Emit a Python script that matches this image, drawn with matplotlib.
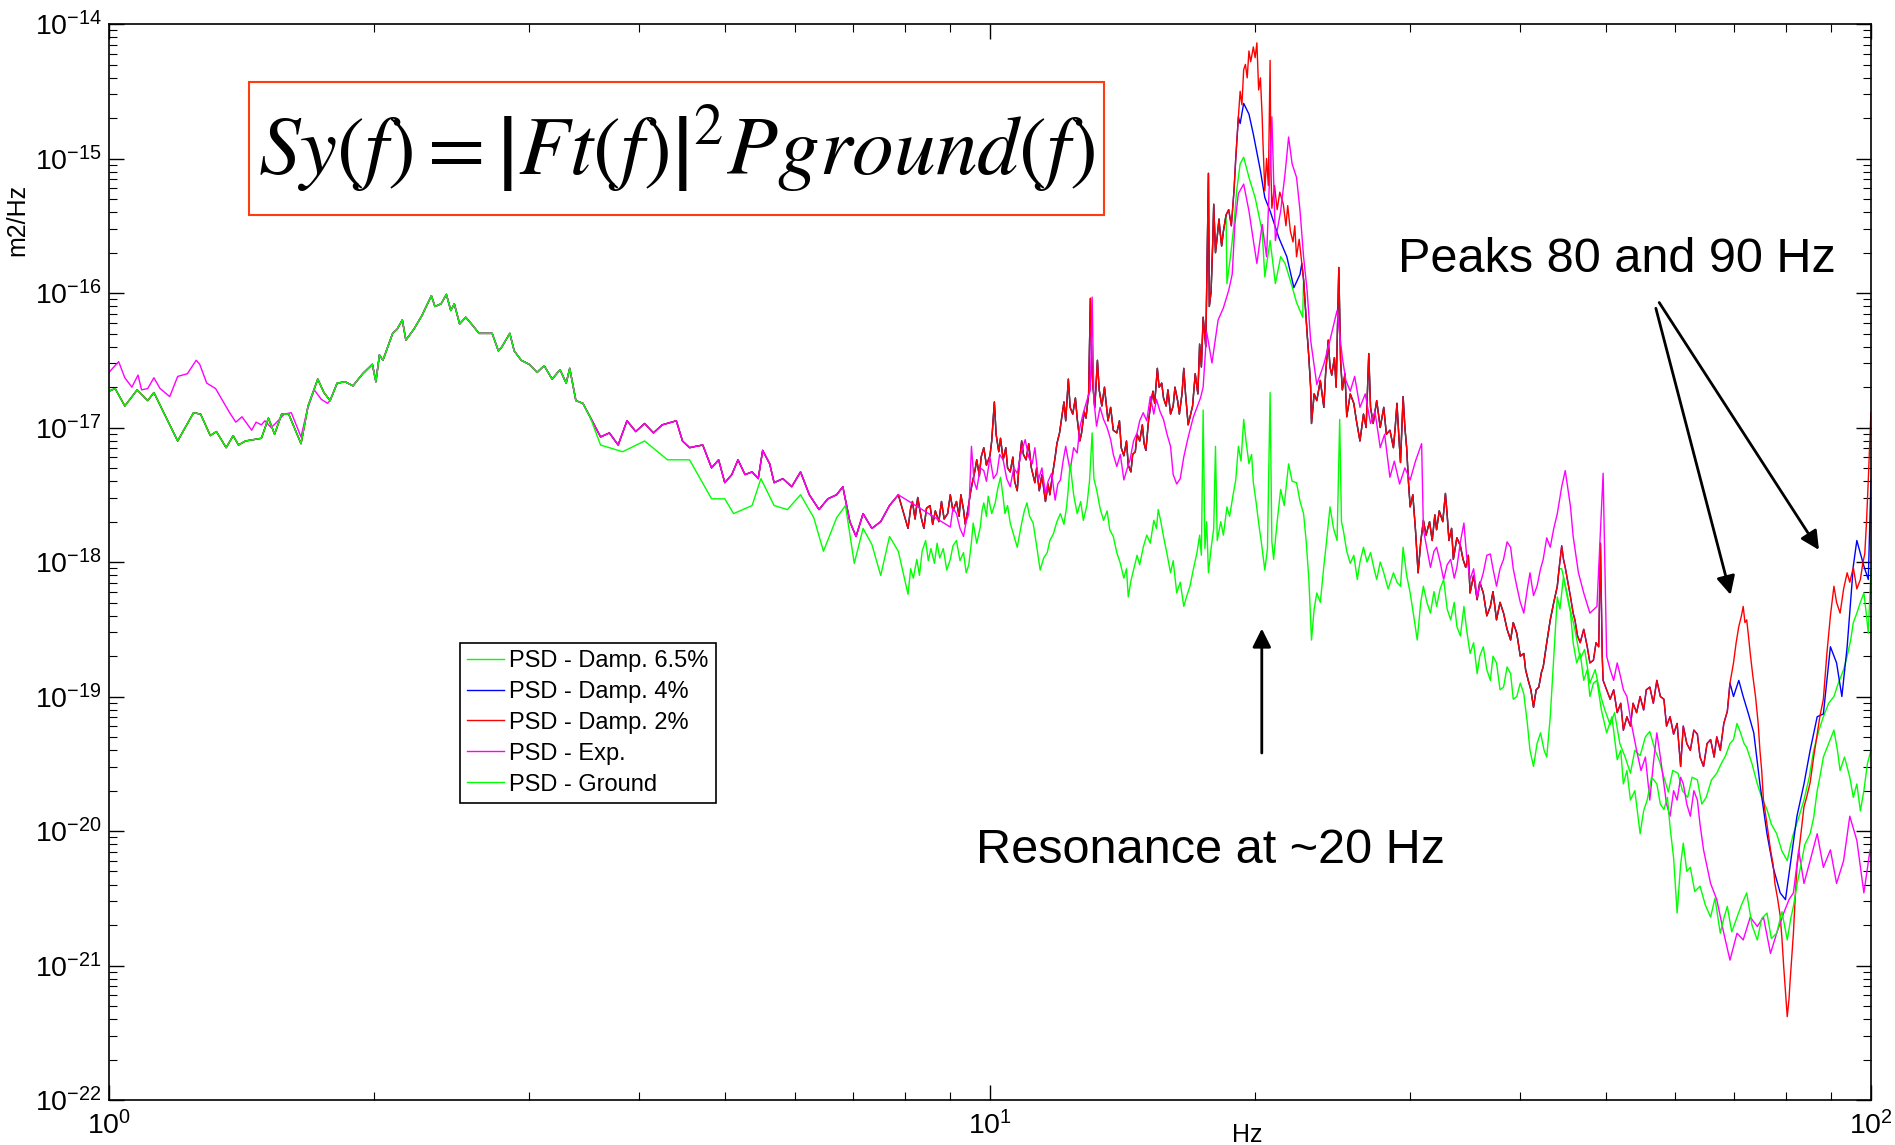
import numpy as np
import matplotlib
matplotlib.use("Agg")
import matplotlib.pyplot as plt
from matplotlib.patches import Rectangle
from matplotlib.ticker import LogLocator, NullFormatter

# Points as (log10 f [Hz], log10 PSD [m2/Hz])

# 1 - 3.6 Hz, ground and the three damped responses lie on top of each other
common_low = [
    (0.000, -16.73), (0.007, -16.71), (0.018, -16.84), (0.032, -16.72), (0.044, -16.80),
    (0.051, -16.74), (0.078, -17.10), (0.096, -16.89), (0.104, -16.90), (0.115, -17.06),
    (0.122, -17.03), (0.133, -17.15), (0.141, -17.06), (0.147, -17.13), (0.155, -17.10),
    (0.173, -17.08), (0.181, -16.93), (0.188, -17.05), (0.196, -16.90), (0.204, -16.90),
    (0.218, -17.12), (0.226, -16.84), (0.237, -16.64), (0.244, -16.74), (0.251, -16.80),
    (0.259, -16.67), (0.268, -16.66), (0.277, -16.69), (0.288, -16.60), (0.299, -16.53),
    (0.303, -16.66), (0.307, -16.46), (0.311, -16.50), (0.322, -16.30), (0.327, -16.27),
    (0.333, -16.20), (0.337, -16.35), (0.346, -16.27), (0.355, -16.17), (0.366, -16.02),
    (0.370, -16.10), (0.377, -16.08), (0.383, -16.01), (0.388, -16.13), (0.392, -16.08),
    (0.398, -16.23), (0.405, -16.18), (0.414, -16.25), (0.420, -16.30), (0.435, -16.30),
    (0.442, -16.43), (0.446, -16.40), (0.455, -16.30), (0.460, -16.43), (0.468, -16.50),
    (0.477, -16.53), (0.486, -16.59), (0.494, -16.54), (0.503, -16.64), (0.512, -16.57),
    (0.519, -16.67), (0.523, -16.56), (0.530, -16.80), (0.538, -16.82), (0.546, -16.92),
]

# measured (Exp.) curve where it leaves the others, 1 - 1.8 Hz
exp_low = [
    (0.000, -16.59), (0.011, -16.51), (0.018, -16.63), (0.026, -16.70), (0.033, -16.61),
    (0.037, -16.72), (0.044, -16.71), (0.051, -16.63), (0.058, -16.71), (0.069, -16.77),
    (0.078, -16.62), (0.089, -16.60), (0.099, -16.50), (0.103, -16.53), (0.111, -16.67),
    (0.121, -16.71), (0.137, -16.89), (0.144, -16.96), (0.151, -16.92), (0.162, -17.02),
    (0.167, -16.96), (0.173, -16.98), (0.177, -16.95), (0.184, -17.00), (0.189, -16.97),
    (0.199, -16.90), (0.207, -16.89), (0.218, -17.07), (0.225, -16.87), (0.233, -16.72),
    (0.241, -16.79), (0.248, -16.82),
]

# 3.6 - 8 Hz, damped responses and Exp.
common_mid = [
    (0.558, -17.07), (0.568, -17.04), (0.578, -17.13), (0.588, -16.95), (0.598, -17.03),
    (0.608, -16.97), (0.618, -17.04), (0.628, -16.98), (0.644, -16.95), (0.651, -17.10),
    (0.659, -17.15), (0.666, -17.14), (0.674, -17.13), (0.684, -17.30), (0.692, -17.24),
    (0.699, -17.41), (0.707, -17.35), (0.714, -17.24), (0.722, -17.35), (0.730, -17.33),
    (0.737, -17.38), (0.742, -17.17), (0.750, -17.27), (0.755, -17.41), (0.765, -17.38),
    (0.775, -17.44), (0.785, -17.33), (0.795, -17.50), (0.806, -17.61), (0.816, -17.53),
    (0.826, -17.50), (0.833, -17.44), (0.841, -17.70), (0.848, -17.81), (0.856, -17.64),
    (0.866, -17.75), (0.876, -17.70), (0.886, -17.58), (0.896, -17.50),
]

# 8 - 16.5 Hz, damped responses
struct_mid = [
    (0.907, -17.75), (0.910, -17.60), (0.912, -17.55), (0.915, -17.68), (0.918, -17.52),
    (0.922, -17.67), (0.925, -17.75), (0.928, -17.60), (0.932, -17.58), (0.935, -17.72),
    (0.938, -17.62), (0.942, -17.70), (0.945, -17.55), (0.948, -17.68), (0.952, -17.64),
    (0.955, -17.50), (0.958, -17.62), (0.962, -17.55), (0.965, -17.66), (0.967, -17.50),
    (0.970, -17.61), (0.972, -17.72), (0.975, -17.61), (0.978, -17.48), (0.980, -17.41),
    (0.983, -17.32), (0.985, -17.24), (0.988, -17.36), (0.990, -17.22), (0.993, -17.15),
    (0.996, -17.28), (1.000, -17.21), (1.002, -17.10), (1.005, -16.81), (1.007, -17.05),
    (1.010, -17.18), (1.012, -17.08), (1.015, -17.24), (1.018, -17.15), (1.020, -17.30),
    (1.023, -17.33), (1.026, -17.22), (1.028, -17.40), (1.031, -17.47), (1.033, -17.28),
    (1.036, -17.10), (1.038, -17.20), (1.041, -17.24), (1.044, -17.12), (1.047, -17.30),
    (1.051, -17.41), (1.053, -17.30), (1.056, -17.47), (1.059, -17.35), (1.063, -17.55),
    (1.066, -17.42), (1.068, -17.50), (1.071, -17.35), (1.074, -17.22), (1.076, -17.12),
    (1.079, -17.04), (1.081, -16.95), (1.084, -16.81), (1.086, -16.95), (1.089, -16.64),
    (1.091, -16.85), (1.094, -16.90), (1.097, -16.78), (1.099, -16.93), (1.102, -17.10),
    (1.104, -17.04), (1.107, -16.88), (1.109, -16.93), (1.112, -16.75), (1.114, -16.04),
    (1.116, -16.60), (1.117, -16.70), (1.119, -16.85), (1.122, -16.50), (1.124, -16.72),
    (1.127, -16.84), (1.130, -16.70), (1.134, -16.95), (1.137, -16.85), (1.140, -17.02),
    (1.144, -17.04), (1.147, -16.95), (1.149, -17.15), (1.152, -17.21), (1.155, -17.10),
    (1.157, -17.28), (1.160, -17.33), (1.162, -17.20), (1.165, -17.18), (1.167, -17.05),
    (1.170, -17.10), (1.173, -16.98), (1.175, -17.12), (1.177, -17.17), (1.180, -16.95),
    (1.182, -16.85), (1.185, -16.73), (1.187, -16.82), (1.190, -16.56), (1.192, -16.70),
    (1.195, -16.67), (1.197, -16.78), (1.200, -16.84), (1.202, -16.72), (1.205, -16.90),
    (1.208, -16.84), (1.210, -16.70), (1.213, -16.80), (1.215, -16.90), (1.218, -16.75),
    (1.220, -16.56), (1.222, -16.75), (1.225, -16.98),
]

# Damp. 2 % from 16.5 Hz on
red_tail = [
    (1.230, -16.84), (1.233, -16.60), (1.236, -16.75), (1.238, -16.38), (1.240, -16.55),
    (1.242, -16.18), (1.245, -16.40), (1.248, -15.11), (1.249, -16.10), (1.251, -15.99),
    (1.253, -15.60), (1.254, -15.34), (1.256, -15.70), (1.258, -15.58), (1.260, -15.45),
    (1.261, -15.53), (1.263, -15.65), (1.265, -15.54), (1.268, -15.42), (1.271, -15.38),
    (1.274, -15.50), (1.277, -15.24), (1.279, -15.00), (1.282, -14.69), (1.284, -14.50),
    (1.286, -14.60), (1.288, -14.34), (1.290, -14.30), (1.292, -14.40), (1.294, -14.20),
    (1.296, -14.28), (1.299, -14.17), (1.301, -14.25), (1.303, -14.14), (1.305, -14.49),
    (1.307, -14.40), (1.309, -14.69), (1.310, -14.90), (1.312, -15.24), (1.314, -15.00),
    (1.316, -15.20), (1.318, -14.27), (1.319, -15.10), (1.320, -15.37), (1.323, -15.20),
    (1.326, -15.38), (1.329, -15.25), (1.333, -15.34), (1.336, -15.50), (1.338, -15.35),
    (1.341, -15.54), (1.344, -15.62), (1.346, -15.50), (1.348, -15.73), (1.351, -15.60),
    (1.354, -15.78), (1.356, -15.90), (1.358, -16.10), (1.360, -16.30), (1.362, -16.48),
    (1.364, -16.70), (1.365, -16.97), (1.368, -16.75), (1.371, -16.80), (1.375, -16.65),
    (1.379, -16.85), (1.381, -16.60), (1.384, -16.35), (1.386, -16.55), (1.388, -16.61),
    (1.391, -16.48), (1.393, -16.70), (1.396, -15.81), (1.398, -16.50), (1.400, -16.72),
    (1.403, -16.60), (1.405, -16.92), (1.409, -16.75), (1.413, -16.82), (1.416, -16.95),
    (1.420, -17.10), (1.424, -16.90), (1.427, -17.00), (1.430, -16.45), (1.432, -16.85),
    (1.435, -16.97), (1.439, -16.80), (1.443, -17.00), (1.447, -16.85), (1.450, -17.05),
    (1.454, -17.02), (1.458, -17.15), (1.460, -17.00), (1.462, -16.82), (1.464, -17.05),
    (1.466, -17.26), (1.469, -16.77), (1.471, -17.00), (1.473, -17.15), (1.475, -17.40),
    (1.477, -17.59), (1.480, -17.50), (1.483, -17.76), (1.486, -18.08), (1.489, -17.85),
    (1.492, -17.69), (1.495, -17.80), (1.499, -17.70), (1.502, -17.84), (1.505, -17.65),
    (1.507, -17.76), (1.510, -17.62), (1.514, -17.70), (1.517, -17.49), (1.519, -17.65),
    (1.521, -17.84), (1.524, -17.75), (1.526, -17.98), (1.530, -17.82), (1.534, -17.88),
    (1.537, -17.98), (1.540, -18.04), (1.543, -17.95), (1.545, -18.23), (1.549, -18.10),
    (1.553, -18.28), (1.556, -18.15), (1.560, -18.23), (1.564, -18.40), (1.568, -18.33),
    (1.571, -18.22), (1.575, -18.43), (1.579, -18.30), (1.583, -18.38), (1.587, -18.50),
    (1.591, -18.58), (1.594, -18.45), (1.598, -18.53), (1.602, -18.70), (1.606, -18.68),
    (1.608, -18.80), (1.611, -18.88), (1.614, -18.95), (1.617, -19.08), (1.620, -18.95),
    (1.623, -18.93), (1.626, -18.82), (1.628, -18.78), (1.632, -18.60), (1.636, -18.43),
    (1.640, -18.30), (1.644, -18.18), (1.646, -18.05), (1.649, -17.88), (1.651, -17.98),
    (1.653, -18.04), (1.656, -18.15), (1.659, -18.26), (1.662, -18.38), (1.664, -18.43),
    (1.667, -18.55), (1.670, -18.60), (1.674, -18.50), (1.678, -18.63), (1.681, -18.75),
    (1.685, -18.73), (1.688, -18.60), (1.691, -18.63), (1.693, -17.86), (1.695, -18.70),
    (1.696, -18.88), (1.700, -18.95), (1.704, -19.02), (1.708, -18.95), (1.712, -19.12),
    (1.716, -19.05), (1.719, -19.25), (1.723, -19.15), (1.727, -19.22), (1.730, -19.05),
    (1.734, -19.12), (1.738, -19.00), (1.742, -19.10), (1.745, -18.95), (1.749, -18.93),
    (1.753, -19.05), (1.757, -18.88), (1.761, -19.00), (1.765, -19.02), (1.768, -19.22),
    (1.772, -19.15), (1.776, -19.28), (1.780, -19.20), (1.784, -19.52), (1.787, -19.22),
    (1.791, -19.35), (1.795, -19.40), (1.799, -19.25), (1.803, -19.28), (1.806, -19.45),
    (1.810, -19.52), (1.814, -19.35), (1.818, -19.32), (1.822, -19.45), (1.825, -19.30),
    (1.829, -19.40), (1.833, -19.20), (1.837, -19.11), (1.840, -18.90), (1.844, -18.75),
    (1.847, -18.60), (1.850, -18.48), (1.853, -18.40), (1.855, -18.33), (1.857, -18.45),
    (1.859, -18.43), (1.861, -18.55), (1.863, -18.68), (1.866, -18.85), (1.869, -19.00),
    (1.872, -19.20), (1.874, -19.40), (1.876, -19.55), (1.878, -19.77), (1.882, -19.95),
    (1.886, -20.14), (1.889, -20.25), (1.891, -20.39), (1.894, -20.50), (1.897, -20.63),
    (1.899, -20.80), (1.901, -21.01), (1.903, -21.20), (1.905, -21.38), (1.907, -21.25),
    (1.908, -21.14), (1.910, -20.95), (1.912, -20.76), (1.914, -20.50), (1.916, -20.27),
    (1.920, -20.05), (1.924, -19.82), (1.927, -19.75), (1.931, -19.64), (1.935, -19.45),
    (1.939, -19.28), (1.942, -19.15), (1.946, -19.02), (1.948, -18.85), (1.950, -18.68),
    (1.954, -18.40), (1.958, -18.18), (1.961, -18.30), (1.965, -18.38), (1.969, -18.20),
    (1.973, -18.08), (1.976, -18.15), (1.980, -18.04), (1.984, -18.20), (1.988, -18.13),
    (1.991, -18.00), (1.993, -17.94), (1.995, -17.70), (1.997, -17.39), (2.000, -16.89),
]

# Damp. 4 % where it separates from Damp. 2 %
blue_peak = [
    (1.284, -14.74), (1.288, -14.59), (1.294, -14.67), (1.299, -14.82), (1.307, -15.09),
    (1.312, -15.29), (1.318, -15.39), (1.328, -15.59), (1.337, -15.73), (1.345, -15.96),
    (1.352, -15.86),
]
blue_tail = [
    (1.844, -19.00), (1.850, -18.88), (1.855, -19.00), (1.861, -19.13), (1.867, -19.27),
    (1.874, -19.65), (1.882, -20.02), (1.889, -20.27), (1.897, -20.46), (1.903, -20.51),
    (1.908, -20.27), (1.916, -19.89), (1.924, -19.65), (1.931, -19.40), (1.939, -19.15),
    (1.946, -19.13), (1.954, -18.63), (1.961, -18.75), (1.967, -19.00), (1.973, -18.63),
    (1.980, -18.03), (1.984, -17.84), (1.992, -18.03), (1.997, -18.13), (2.000, -17.39),
]

# Damp. 6.5 % where it separates from Damp. 2 %
g65_peak = [
    (1.269, -15.93), (1.273, -15.73), (1.277, -15.49), (1.280, -15.24), (1.284, -15.04),
    (1.288, -14.99), (1.294, -15.14), (1.301, -15.29), (1.309, -15.54), (1.312, -15.88),
    (1.318, -15.61), (1.324, -15.93), (1.330, -15.73), (1.335, -15.78), (1.342, -15.93),
    (1.348, -16.07), (1.355, -16.18),
]
g65_tail = [
    (1.649, -18.05), (1.654, -18.20), (1.659, -18.36), (1.664, -18.50), (1.670, -18.72),
    (1.675, -18.65), (1.681, -18.90), (1.687, -18.80), (1.693, -18.99), (1.698, -19.10),
    (1.704, -19.21), (1.709, -19.12), (1.715, -19.35), (1.721, -19.45), (1.727, -19.57),
    (1.732, -19.40), (1.738, -19.44), (1.744, -19.30), (1.749, -19.26), (1.755, -19.40),
    (1.760, -19.48), (1.765, -19.60), (1.770, -19.71), (1.775, -19.55), (1.781, -19.57),
    (1.786, -19.70), (1.792, -19.75), (1.797, -19.60), (1.803, -19.62), (1.808, -19.80),
    (1.813, -19.75), (1.819, -19.62), (1.825, -19.57), (1.830, -19.50), (1.835, -19.44),
    (1.840, -19.35), (1.844, -19.32), (1.848, -19.20), (1.852, -19.27), (1.856, -19.35),
    (1.859, -19.38), (1.865, -19.50), (1.871, -19.65), (1.876, -19.75), (1.882, -19.84),
    (1.887, -19.95), (1.893, -20.02), (1.899, -20.15), (1.905, -20.22), (1.909, -20.10),
    (1.912, -20.02), (1.918, -19.90), (1.924, -19.77), (1.930, -19.60), (1.935, -19.40),
    (1.941, -19.25), (1.946, -19.15), (1.952, -19.05), (1.958, -19.00), (1.963, -18.90),
    (1.969, -18.80), (1.973, -18.70), (1.977, -18.58), (1.980, -18.45), (1.984, -18.38),
    (1.988, -18.30), (1.992, -18.23), (1.995, -18.40), (1.997, -18.53), (2.000, -18.05),
]

# Exp. above 9 Hz
exp_high = [
    (0.955, -17.74), (0.958, -17.60), (0.962, -17.64), (0.966, -17.75), (0.970, -17.81),
    (0.973, -17.70), (0.976, -17.64), (0.979, -17.14), (0.982, -17.40), (0.985, -17.46),
    (0.989, -17.30), (0.993, -17.32), (0.996, -17.40), (1.000, -17.22), (1.004, -17.38),
    (1.008, -17.34), (1.011, -17.20), (1.015, -17.24), (1.019, -17.38), (1.023, -17.44),
    (1.027, -17.30), (1.031, -17.34), (1.035, -17.20), (1.040, -17.09), (1.044, -17.22),
    (1.048, -17.27), (1.051, -17.15), (1.055, -17.39), (1.059, -17.30), (1.063, -17.49),
    (1.066, -17.40), (1.070, -17.34), (1.074, -17.54), (1.077, -17.42), (1.080, -17.39),
    (1.083, -17.25), (1.086, -17.14), (1.089, -17.25), (1.091, -17.32), (1.095, -17.15),
    (1.099, -17.19), (1.102, -17.00), (1.106, -16.89), (1.110, -16.80), (1.114, -16.72),
    (1.116, -16.03), (1.118, -16.80), (1.121, -16.99), (1.125, -16.85), (1.129, -16.94),
    (1.133, -17.00), (1.137, -17.09), (1.140, -17.20), (1.144, -17.29), (1.148, -17.20),
    (1.152, -17.39), (1.156, -17.30), (1.159, -17.24), (1.163, -17.10), (1.167, -17.04),
    (1.170, -16.95), (1.174, -16.89), (1.178, -16.95), (1.182, -16.77), (1.186, -16.90),
    (1.189, -16.79), (1.193, -16.88), (1.197, -16.94), (1.201, -17.05), (1.205, -17.14),
    (1.208, -17.35), (1.212, -17.42), (1.216, -17.38), (1.220, -17.22), (1.224, -17.10),
    (1.227, -17.02), (1.231, -16.92), (1.235, -16.85), (1.239, -16.78), (1.242, -16.70),
    (1.246, -16.29), (1.252, -16.52), (1.259, -16.20), (1.265, -16.11), (1.271, -15.98),
    (1.275, -15.86), (1.278, -15.49), (1.282, -15.26), (1.288, -15.19), (1.294, -15.39),
    (1.299, -15.61), (1.303, -15.78), (1.309, -15.49), (1.314, -15.73), (1.320, -14.69),
    (1.324, -15.61), (1.330, -15.39), (1.335, -15.11), (1.339, -14.84), (1.343, -15.04),
    (1.348, -15.14), (1.352, -15.39), (1.356, -15.73), (1.360, -15.98), (1.364, -16.35),
    (1.371, -16.68), (1.379, -16.53), (1.386, -16.35), (1.394, -16.13), (1.400, -16.48),
    (1.404, -16.65), (1.409, -16.73), (1.414, -16.62), (1.420, -16.85), (1.426, -16.75),
    (1.432, -16.97), (1.437, -16.88), (1.443, -17.15), (1.448, -17.05), (1.454, -17.37),
    (1.459, -17.25), (1.465, -17.42), (1.471, -17.30), (1.477, -17.39), (1.483, -17.25),
    (1.490, -17.12), (1.492, -17.76), (1.496, -17.90), (1.500, -18.04), (1.504, -17.92),
    (1.507, -17.89), (1.511, -18.00), (1.515, -18.13), (1.519, -18.02), (1.523, -17.98),
    (1.527, -18.12), (1.530, -18.04), (1.534, -17.85), (1.538, -17.71), (1.541, -17.95),
    (1.545, -18.13), (1.549, -18.05), (1.553, -18.26), (1.557, -18.15), (1.560, -18.08),
    (1.564, -17.95), (1.568, -17.94), (1.571, -18.05), (1.575, -18.18), (1.579, -18.05),
    (1.583, -17.98), (1.587, -17.85), (1.591, -17.89), (1.594, -18.05), (1.598, -18.18),
    (1.602, -18.30), (1.606, -18.38), (1.610, -18.20), (1.613, -18.08), (1.617, -18.25),
    (1.621, -18.18), (1.625, -18.05), (1.628, -17.98), (1.632, -17.82), (1.636, -17.89),
    (1.640, -17.75), (1.644, -17.64), (1.649, -17.44), (1.653, -17.32), (1.659, -17.59),
    (1.662, -17.81), (1.668, -18.08), (1.674, -18.23), (1.681, -18.38), (1.689, -18.33),
    (1.696, -17.34), (1.700, -18.70), (1.704, -18.80), (1.708, -18.88), (1.712, -18.75),
    (1.715, -18.83), (1.719, -18.95), (1.723, -19.00), (1.728, -19.20), (1.734, -19.40),
    (1.739, -19.55), (1.744, -19.45), (1.749, -19.77), (1.753, -19.50), (1.757, -19.27),
    (1.761, -19.45), (1.765, -19.65), (1.768, -19.80), (1.772, -19.89), (1.776, -19.70),
    (1.780, -19.77), (1.784, -19.60), (1.787, -19.65), (1.791, -19.80), (1.795, -19.89),
    (1.799, -19.70), (1.803, -19.77), (1.806, -19.95), (1.810, -20.14), (1.818, -20.39),
    (1.825, -20.51), (1.833, -20.76), (1.840, -20.96), (1.848, -20.76), (1.855, -20.81),
    (1.863, -20.64), (1.871, -20.71), (1.878, -20.64), (1.886, -20.91), (1.893, -20.76),
    (1.901, -20.61), (1.907, -20.51), (1.912, -20.46), (1.918, -20.14), (1.924, -20.39),
    (1.931, -20.22), (1.939, -20.02), (1.946, -20.27), (1.954, -20.14), (1.961, -20.39),
    (1.969, -20.22), (1.976, -19.89), (1.984, -20.07), (1.992, -20.46), (1.999, -20.14),
]

# Ground, 3.6 - 8 Hz
ground_mid = [
    (0.558, -17.13), (0.583, -17.18), (0.608, -17.10), (0.634, -17.24), (0.659, -17.24),
    (0.684, -17.53), (0.699, -17.53), (0.709, -17.64), (0.730, -17.58), (0.740, -17.38),
    (0.755, -17.58), (0.770, -17.61), (0.785, -17.50), (0.800, -17.67), (0.811, -17.92),
    (0.826, -17.67), (0.836, -17.58), (0.846, -18.01), (0.856, -17.75), (0.866, -17.87),
    (0.876, -18.10), (0.886, -17.81), (0.896, -17.92),
]

# Ground above 8 Hz
ground_high = [
    (0.907, -18.24), (0.910, -18.05), (0.913, -18.12), (0.917, -17.98), (0.920, -18.10),
    (0.923, -17.92), (0.927, -17.84), (0.930, -17.99), (0.933, -17.90), (0.937, -18.01),
    (0.940, -17.86), (0.943, -17.97), (0.947, -17.90), (0.951, -18.06), (0.955, -17.98),
    (0.958, -17.88), (0.962, -17.84), (0.966, -17.99), (0.970, -17.93), (0.973, -18.08),
    (0.976, -18.02), (0.979, -17.85), (0.981, -17.71), (0.985, -17.86), (0.989, -17.74),
    (0.991, -17.62), (0.993, -17.56), (0.996, -17.66), (0.998, -17.51), (1.002, -17.64),
    (1.006, -17.56), (1.009, -17.45), (1.012, -17.37), (1.015, -17.52), (1.017, -17.64),
    (1.020, -17.58), (1.023, -17.71), (1.027, -17.80), (1.031, -17.89), (1.034, -17.78),
    (1.036, -17.71), (1.039, -17.62), (1.042, -17.56), (1.045, -17.66), (1.049, -17.71),
    (1.053, -17.88), (1.057, -18.06), (1.061, -17.97), (1.065, -17.93), (1.068, -17.84),
    (1.072, -17.79), (1.076, -17.70), (1.080, -17.64), (1.084, -17.72), (1.087, -17.59),
    (1.089, -17.45), (1.091, -17.27), (1.095, -17.50), (1.099, -17.64), (1.103, -17.55),
    (1.106, -17.69), (1.110, -17.58), (1.113, -17.40), (1.116, -17.04), (1.118, -17.38),
    (1.121, -17.46), (1.125, -17.60), (1.129, -17.69), (1.133, -17.62), (1.136, -17.76),
    (1.140, -17.81), (1.144, -17.93), (1.148, -18.01), (1.152, -18.12), (1.155, -18.05),
    (1.157, -18.26), (1.160, -18.14), (1.163, -18.06), (1.167, -17.95), (1.170, -18.02),
    (1.174, -17.89), (1.178, -17.80), (1.182, -17.86), (1.186, -17.69), (1.189, -17.75),
    (1.191, -17.61), (1.194, -17.70), (1.197, -17.81), (1.201, -17.94), (1.205, -18.08),
    (1.208, -17.99), (1.212, -18.23), (1.216, -18.15), (1.220, -18.33), (1.224, -18.24),
    (1.227, -18.18), (1.231, -18.05), (1.235, -17.93), (1.238, -17.80), (1.240, -17.95),
    (1.242, -16.87), (1.244, -17.90), (1.246, -17.70), (1.248, -18.08), (1.251, -17.90),
    (1.254, -17.75), (1.256, -17.14), (1.258, -17.84), (1.262, -17.70), (1.265, -17.80),
    (1.269, -17.59), (1.272, -17.66), (1.276, -17.50), (1.279, -17.39), (1.282, -17.14),
    (1.285, -17.25), (1.288, -16.94), (1.291, -17.12), (1.294, -17.27), (1.297, -17.20),
    (1.299, -17.41), (1.302, -17.55), (1.305, -17.71), (1.308, -17.85), (1.312, -18.06),
    (1.315, -17.90), (1.318, -16.74), (1.320, -17.85), (1.322, -17.98), (1.326, -17.70),
    (1.330, -17.46), (1.334, -17.58), (1.339, -17.27), (1.343, -17.40), (1.348, -17.41),
    (1.352, -17.55), (1.356, -17.64), (1.359, -17.85), (1.362, -18.13), (1.365, -18.58),
    (1.368, -18.35), (1.371, -18.23), (1.375, -18.30), (1.379, -18.03), (1.382, -17.85),
    (1.386, -17.59), (1.390, -17.75), (1.394, -17.84), (1.397, -16.94), (1.399, -17.70),
    (1.401, -17.76), (1.405, -17.92), (1.409, -18.01), (1.413, -17.95), (1.417, -18.13),
    (1.420, -18.00), (1.424, -17.89), (1.428, -18.00), (1.432, -17.93), (1.436, -18.05),
    (1.439, -18.13), (1.443, -18.00), (1.447, -18.08), (1.452, -18.20), (1.458, -18.08),
    (1.462, -18.15), (1.466, -18.18), (1.469, -17.89), (1.473, -18.10), (1.477, -18.23),
    (1.481, -18.40), (1.485, -18.58), (1.489, -18.30), (1.492, -18.18), (1.496, -18.30),
    (1.500, -18.38), (1.504, -18.22), (1.507, -18.33), (1.511, -18.20), (1.515, -18.13),
    (1.519, -18.35), (1.523, -18.43), (1.527, -18.30), (1.530, -18.48), (1.534, -18.55),
    (1.538, -18.33), (1.541, -18.50), (1.545, -18.68), (1.549, -18.60), (1.553, -18.83),
    (1.556, -18.70), (1.560, -18.63), (1.564, -18.80), (1.568, -18.88), (1.571, -18.70),
    (1.575, -18.75), (1.579, -18.95), (1.583, -18.93), (1.587, -18.78), (1.591, -18.83),
    (1.594, -19.02), (1.598, -19.00), (1.602, -18.90), (1.606, -18.98), (1.610, -19.20),
    (1.613, -19.40), (1.617, -19.52), (1.621, -19.35), (1.625, -19.27), (1.629, -19.40),
    (1.632, -19.45), (1.636, -19.15), (1.640, -18.70), (1.644, -18.26), (1.647, -18.35),
    (1.651, -18.11), (1.655, -18.25), (1.659, -18.38), (1.662, -18.60), (1.666, -18.75),
    (1.670, -18.68), (1.674, -18.88), (1.678, -18.80), (1.681, -19.00), (1.685, -18.90),
    (1.689, -18.88), (1.694, -19.10), (1.700, -19.27), (1.706, -19.15), (1.712, -19.47),
    (1.716, -19.40), (1.719, -19.65), (1.723, -19.55), (1.727, -19.77), (1.732, -19.70),
    (1.738, -20.02), (1.742, -19.85), (1.746, -19.77), (1.751, -19.60), (1.757, -19.65),
    (1.761, -19.80), (1.765, -19.84), (1.769, -19.75), (1.772, -19.97), (1.776, -20.20),
    (1.780, -20.61), (1.784, -20.25), (1.787, -20.09), (1.791, -20.30), (1.795, -20.27),
    (1.800, -20.45), (1.806, -20.41), (1.812, -20.55), (1.818, -20.64), (1.823, -20.50),
    (1.829, -20.76), (1.833, -20.65), (1.837, -20.56), (1.842, -20.75), (1.848, -20.64),
    (1.853, -20.55), (1.859, -20.46), (1.865, -20.70), (1.871, -20.81), (1.876, -20.65),
    (1.882, -20.61), (1.887, -20.80), (1.893, -20.76), (1.899, -20.60), (1.905, -20.81),
    (1.909, -20.65), (1.912, -20.56), (1.916, -20.40), (1.920, -20.27), (1.925, -20.10),
    (1.931, -20.02), (1.935, -19.90), (1.939, -19.70), (1.942, -19.60), (1.946, -19.45),
    (1.952, -19.35), (1.958, -19.25), (1.962, -19.40), (1.965, -19.55), (1.970, -19.45),
    (1.976, -19.60), (1.980, -19.75), (1.984, -19.65), (1.988, -19.85), (1.992, -19.70),
    (1.996, -19.50), (2.000, -19.40),
]

labels = ['PSD - Damp. 6.5%', 'PSD - Damp. 4%', 'PSD - Damp. 2%', 'PSD - Exp.', 'PSD - Ground']
colors = ['#00ff00', '#0000ff', '#ff0000', '#ff00ff', '#00ff00']
y_decades = list(range(-22, -13))


def swap(base, seg):
    # replace the part of base covered by seg
    base = np.asarray(base, float)
    seg = np.asarray(seg, float)
    keep = (base[:, 0] < seg[0, 0]) | (base[:, 0] > seg[-1, 0])
    out = np.vstack([base[keep], seg])
    return out[np.argsort(out[:, 0], kind='stable')]


red = np.vstack([common_low, common_mid, struct_mid, red_tail])
blue = swap(swap(red, blue_peak), blue_tail)
g65 = swap(swap(red, g65_peak), g65_tail)
exp = np.vstack([exp_low, [p for p in common_low if p[0] > 0.25], common_mid, exp_high])
ground = np.vstack([common_low, ground_mid, ground_high])

series = [g65, blue, red, exp, ground]

plt.rcParams['font.family'] = ['Liberation Sans', 'DejaVu Sans']
plt.rcParams['mathtext.fontset'] = 'custom'
plt.rcParams['mathtext.rm'] = 'Liberation Sans'
plt.rcParams['mathtext.it'] = 'Liberation Sans:italic'

fig = plt.figure(figsize=(18.95, 11.45), dpi=100)
ax = fig.add_axes([0.0575, 0.0393, 0.9298, 0.9397])

for s, lab, c in zip(series, labels, colors):
    ax.plot(10 ** s[:, 0], 10 ** s[:, 1], color=c, lw=1.0, label=lab)

ax.set_xscale('log')
ax.set_yscale('log')
ax.set_xlim(1, 100)
ax.set_ylim(1e-22, 1e-14)
ax.set_yticks([10.0 ** k for k in y_decades])
ax.set_xticks([1, 10, 100])
ax.yaxis.set_minor_locator(LogLocator(base=10, subs=np.arange(2, 10), numticks=200))
ax.yaxis.set_minor_formatter(NullFormatter())
ax.xaxis.set_minor_formatter(NullFormatter())
ax.tick_params(which='both', direction='in', top=True, right=True)
ax.tick_params(which='major', length=11, width=1.0, labelsize=20.5, pad=5)
ax.tick_params(axis='x', which='major', pad=8)
ax.tick_params(which='minor', length=6, width=0.8)
for sp in ax.spines.values():
    sp.set_linewidth(1.2)

ax.set_ylabel('m2/Hz', fontsize=18)
ax.yaxis.set_label_coords(-0.045, 0.818)
ax.set_xlabel('Hz', fontsize=18)
ax.xaxis.set_label_coords(0.646, -0.021)

leg = ax.legend(loc='upper left', bbox_to_anchor=(0.199, 0.425), fontsize=17,
                fancybox=False, edgecolor='black', framealpha=1, handlelength=1.6,
                handletextpad=0.2, borderpad=0.3, labelspacing=0.38, borderaxespad=0)
leg.get_frame().set_linewidth(1.2)

# formula box
ax.add_patch(Rectangle((0.0795, 0.8225), 0.4855, 0.1235, transform=ax.transAxes,
                       facecolor='white', edgecolor='#ff3b10', lw=1.5, zorder=5))
ax.text(0.322, 0.884, r'$Sy(f)=\left|Ft(f)\right|^2 Pground(f)$', transform=ax.transAxes,
        ha='center', va='center', fontsize=60, math_fontfamily='stix', zorder=6)

# annotations
ax.text(0.856, 0.781, 'Peaks 80 and 90 Hz', transform=ax.transAxes,
        ha='center', va='center', fontsize=35)
ax.text(0.625, 0.232, 'Resonance at ~20 Hz', transform=ax.transAxes,
        ha='center', va='center', fontsize=35)
arrow = dict(arrowstyle='-|>', color='black', lw=2, mutation_scale=28, shrinkA=0, shrinkB=0)
ax.annotate('', xy=(20.35, 3.2e-19), xytext=(20.35, 3.8e-20), arrowprops=arrow)
ax.annotate('', xy=(69.3, 5.7e-19), xytext=(57.0, 7.7e-17), arrowprops=arrow)
ax.annotate('', xy=(87.3, 1.23e-18), xytext=(57.5, 8.5e-17), arrowprops=arrow)

fig.savefig('out.png', dpi=100)
